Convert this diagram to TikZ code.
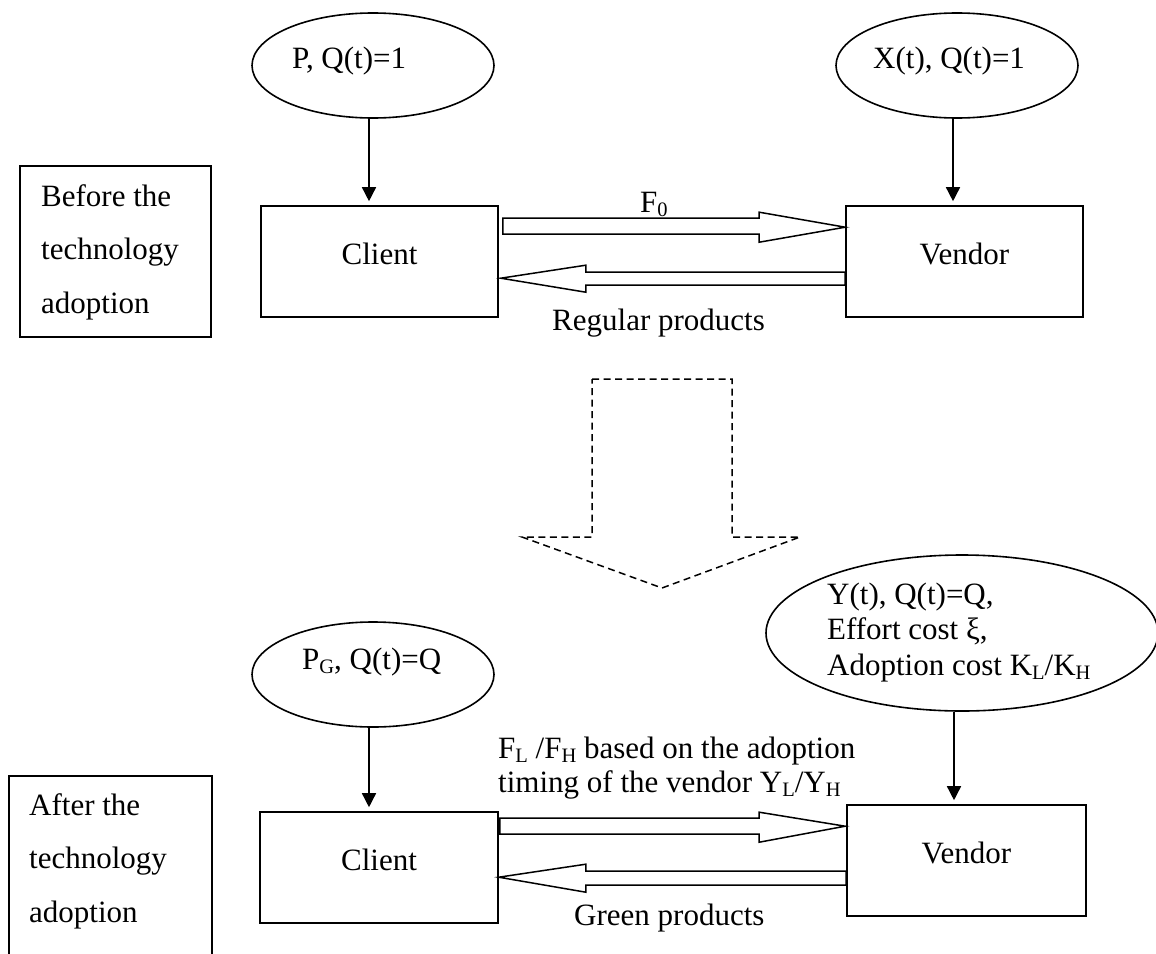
\documentclass[tikz,border=0pt]{standalone}
\usepackage{fontspec}
\setmainfont{Liberation Serif}
\usetikzlibrary{arrows.meta,shapes.geometric,calc}
\newcommand\sbs[1]{\raisebox{-0.15em}{\fontsize{20.5}{20.5}\selectfont #1}}
\begin{document}
\begin{tikzpicture}[x=1pt,y=-1pt,
  every node/.style={font=\fontsize{31}{36}\selectfont},
  box/.style={draw, line width=1.6pt, inner sep=0pt, text height=20pt, text depth=15pt},
  oval/.style={draw, ellipse, line width=1.6pt, inner sep=0pt},
  txt/.style={anchor=base west, inner sep=0pt},
  conn/.style={line width=1.5pt, -{Triangle[width=14pt,length=14pt]}, shorten >=4pt},
  block/.style={draw, line width=1.5pt, fill=white, line join=miter},
  dashedarrow/.style={draw, line width=1.5pt, dash pattern=on 7pt off 4.5pt}
]
\useasboundingbox (0,0) rectangle (1156,953);
\fill[white] (0,0) rectangle (1156,953);
\clip (0,0) rectangle (1156,953);

% ---------- Before ----------
\node[box, minimum width=191pt, minimum height=171pt] (before) at (115.5,251.5) {};
\node[txt] (b1) at (41,206) {Before the};
\node[txt] (b2) at (41,259) {technology};
\node[txt] (b3) at (41,313) {adoption};

\node[oval, minimum width=242pt, minimum height=105pt] (ellP) at (373,65.5) {};
\node[txt] (tP) at (292,68) {P, Q(t)=1};
\node[oval, minimum width=242pt, minimum height=105pt] (ellX) at (957,65.5) {};
\node[txt] (tX) at (873,68) {X(t), Q(t)=1};

\node[box, minimum width=237pt, minimum height=111pt] (cl1) at (379.5,261.5) {Client};
\node[box, minimum width=237pt, minimum height=111pt] (vd1) at (964.5,261.5) {Vendor};

\draw[conn] ($(ellP.south)+(-4,0)$) -- ($(cl1.north)+(-10.5,0)$);
\draw[conn] ($(ellX.south)+(-4,0)$) -- ($(vd1.north)+(-11.5,0)$);

% forward block arrow (client -> vendor)
\path[block] ($(cl1.north east)+(4,13)$) -- ($(vd1.north west)+(-86,13)$)
  -- ($(vd1.north west)+(-86,7)$) -- ($(vd1.north west)+(0,22)$)
  -- ($(vd1.north west)+(-86,37)$) -- ($(vd1.north west)+(-86,29)$)
  -- ($(cl1.north east)+(4,29)$) -- cycle;
% backward block arrow (vendor -> client)
\path[block] ($(cl1.north east)+(2,73)$) -- ($(cl1.north east)+(87,60)$)
  -- ($(cl1.north east)+(87,67)$) -- ($(vd1.north west)+(0,67)$)
  -- ($(vd1.north west)+(0,80)$) -- ($(cl1.north east)+(87,80)$)
  -- ($(cl1.north east)+(87,87)$) -- cycle;

\node[txt] (f0) at (640,212) {F\sbs{0}};
\node[txt] (reg) at (552,330) {Regular products};

% ---------- dashed transition arrow ----------
\draw[dashedarrow] (592,379) -- (732,379) -- (732,537) -- (800,537) -- (662,588)
  -- (522,537) -- (592,537) -- cycle;

% ---------- After ----------
\node[box, minimum width=203pt, minimum height=250pt] (after) at (110.5,901) {};
\node[txt] (a1) at (29,815) {After the};
\node[txt] (a2) at (29,868) {technology};
\node[txt] (a3) at (29,922) {adoption};

\node[oval, minimum width=242pt, minimum height=105pt] (ellPG) at (373,674.5) {};
\node[txt] (tPG) at (302,669) {P\sbs{G}, Q(t)=Q};
\node[oval, minimum width=392pt, minimum height=156pt] (ellY) at (962,633) {};
\node[txt] (y1) at (827,604) {Y(t), Q(t)=Q,};
\node[txt] (y2) at (827,639) {Effort cost ξ,};
\node[txt] (y3) at (827,675) {Adoption cost K\sbs{L}/K\sbs{H}};

\node[box, minimum width=238pt, minimum height=111pt] (cl2) at (379,867.5) {Client};
\node[box, minimum width=239pt, minimum height=111pt] (vd2) at (966.5,860.5) {Vendor};

\draw[conn] ($(ellPG.south)+(-4,0)$) -- ($(cl2.north)+(-10,0)$);
\draw[conn] ($(ellY.south)+(-8,0)$) -- ($(vd2.north)+(-12.5,0)$);

\path[block] ($(cl2.north east)+(1,7)$) -- ($(vd2.north west)+(-87,14)$)
  -- ($(vd2.north west)+(-87,8)$) -- ($(vd2.north west)+(-1,22)$)
  -- ($(vd2.north west)+(-87,38)$) -- ($(vd2.north west)+(-87,30)$)
  -- ($(cl2.north east)+(1,23)$) -- cycle;
\path[block] ($(cl2.north east)+(0,66)$) -- ($(cl2.north east)+(87,53)$)
  -- ($(cl2.north east)+(87,60)$) -- ($(vd2.north west)+(0,67)$)
  -- ($(vd2.north west)+(0,81)$) -- ($(cl2.north east)+(87,74)$)
  -- ($(cl2.north east)+(87,81)$) -- cycle;

\node[txt] (fl1) at (498,758) {F\sbs{L} /F\sbs{H} based on the adoption};
\node[txt] (fl2) at (498,792) {timing of the vendor Y\sbs{L}/Y\sbs{H}};
\node[txt] (green) at (574,925) {Green products};
\end{tikzpicture}
\end{document}
